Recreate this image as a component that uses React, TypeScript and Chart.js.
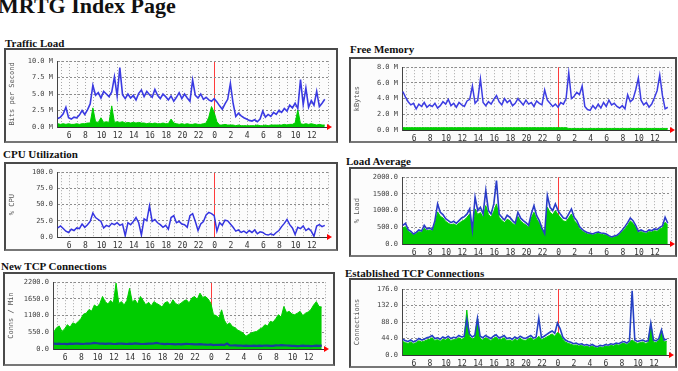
import React, { useEffect, useRef } from 'react';
import { Chart, registerables } from 'chart.js';

Chart.register(...registerables);

// sampling: one value every 20 minutes, starting 04:36 on day one
const startHour = 4.6;
const stepHours = 1 / 3;
const axisMinHour = 4.5;
const axisMaxHour = 38;
const midnightHour = 24;

// ---- Traffic Load (M bits/s) ----
const trafficOut = [
  1.3, 1.5, 2.0, 3.0, 1.4, 1.2, 1.5, 1.4, 1.8, 2.5,
  1.9, 2.6, 3.5, 6.3, 4.8, 5.2, 4.4, 5.4, 5.0, 4.6,
  5.3, 7.6, 4.7, 9.0, 4.9, 4.3, 5.0, 4.4, 4.8, 4.1,
  5.1, 5.6, 4.6, 5.4, 4.9, 4.5, 5.7, 4.8, 4.3, 5.0,
  4.6, 4.1, 4.7, 3.9, 4.5, 5.2, 4.3, 5.0, 4.4, 3.9,
  7.1, 4.8, 4.4, 5.0, 4.2, 4.5, 4.1, 3.9, 4.3, 3.8,
  3.2, 2.7, 3.5, 4.2, 6.6, 3.6, 1.6, 2.1, 1.7, 1.4,
  1.2, 1.0, 0.9, 1.1, 0.8, 1.2, 2.4, 1.5, 1.9, 1.6,
  2.2, 1.9, 2.5, 2.2, 2.8, 2.4, 3.3, 2.9, 3.6, 2.8,
  7.2, 3.4, 5.9, 3.0, 4.0, 3.3, 5.4, 3.1, 3.6, 4.2,
];
const trafficIn = [
  0.5, 0.4, 0.5, 0.4, 0.5, 0.4, 0.4, 0.5, 0.4, 0.5,
  0.5, 0.6, 0.6, 2.9, 0.8, 0.7, 1.4, 0.7, 0.8, 0.7,
  3.2, 0.7, 0.8, 0.7, 0.8, 0.6, 0.7, 0.6, 0.7, 0.6,
  0.7, 0.6, 0.6, 0.5, 0.6, 0.5, 0.6, 0.5, 0.5, 0.6,
  0.5, 0.5, 1.2, 0.6, 0.5, 0.4, 0.5, 0.4, 0.5, 0.4,
  0.4, 0.5, 0.4, 0.4, 0.5, 0.6, 1.5, 3.1, 2.2, 0.8,
  0.3, 0.3, 0.4, 0.3, 0.3, 0.3, 0.2, 0.3, 0.2, 0.2,
  0.2, 0.2, 0.2, 0.2, 0.3, 0.2, 0.2, 0.3, 0.2, 0.3,
  0.3, 0.3, 0.3, 0.3, 0.4, 0.3, 0.4, 0.4, 0.6, 2.6,
  0.5, 0.4, 0.5, 0.4, 0.5, 0.4, 0.3, 0.4, 0.3, 0.3,
];

// ---- Free Memory (M kBytes) ----
const memoryOut = [
  4.9, 4.2, 3.6, 3.2, 3.4, 2.7, 3.3, 3.0, 3.5, 2.9,
  3.2, 3.0, 3.4, 2.8, 3.1, 3.6, 3.3, 3.9, 3.1, 3.4,
  2.9, 3.5, 3.2, 3.0, 3.7, 3.9, 5.6, 3.4, 3.8, 6.5,
  3.5, 3.1, 3.6, 3.3, 3.9, 4.4, 3.6, 3.2, 4.0, 3.5,
  3.8, 3.1, 3.4, 4.0, 3.6, 3.2, 3.8, 3.3, 3.5, 3.0,
  3.7, 3.4, 3.2, 5.1, 3.8, 3.4, 3.0, 3.3, 2.9, 3.5,
  3.3, 4.0, 7.3, 4.0, 4.3, 4.8, 4.5, 5.6, 3.0, 2.6,
  2.5, 3.1, 2.7, 3.3, 2.8, 3.5, 3.0, 3.8, 3.2, 3.4,
  3.0, 2.8, 3.1, 2.7, 4.5, 3.6, 3.9, 5.1, 6.6, 3.8,
  3.2, 3.5, 2.9, 3.3, 4.1, 5.0, 7.0, 4.4, 2.7, 2.9,
];
const memoryIn = [
  0.3, 0.3, 0.3, 0.3, 0.3, 0.3, 0.3, 0.3, 0.3, 0.3,
  0.3, 0.3, 0.3, 0.3, 0.3, 0.3, 0.3, 0.3, 0.3, 0.3,
  0.3, 0.3, 0.3, 0.3, 0.3, 0.3, 0.3, 0.3, 0.3, 0.3,
  0.3, 0.3, 0.3, 0.3, 0.3, 0.3, 0.3, 0.3, 0.3, 0.3,
  0.3, 0.3, 0.3, 0.3, 0.3, 0.3, 0.3, 0.3, 0.3, 0.3,
  0.3, 0.3, 0.3, 0.3, 0.3, 0.3, 0.3, 0.3, 0.3, 0.3,
  0.3, 0.3, 0.2, 0.2, 0.2, 0.2, 0.2, 0.2, 0.2, 0.2,
  0.2, 0.2, 0.2, 0.2, 0.2, 0.2, 0.2, 0.2, 0.2, 0.2,
  0.2, 0.2, 0.2, 0.2, 0.2, 0.2, 0.2, 0.2, 0.2, 0.2,
  0.2, 0.2, 0.2, 0.2, 0.2, 0.2, 0.2, 0.2, 0.2, 0.2,
];

// ---- CPU Utilization (%) ----
const cpuOut = [
  14, 17, 13, 9, 7, 12, 10, 14, 13, 20,
  15, 19, 24, 37, 30, 27, 24, 14, 18, 16,
  21, 19, 22, 18, 20, 2, 22, 19, 24, 30,
  22, 3, 28, 25, 48, 24, 27, 22, 19, 15,
  18, 12, 30, 33, 22, 24, 20, 19, 15, 33,
  36, 24, 10, 20, 24, 34, 38, 36, 33, 9,
  22, 18, 26, 25, 20, 15, 9, 11, 7, 9,
  6, 10, 7, 11, 5, 8, 7, 4, 3, 5,
  3, 7, 10, 16, 21, 27, 19, 14, 4, 15,
  13, 17, 10, 13, 9, 1, 17, 19, 16, 18,
];

// ---- Load Average ----
const loadOut = [
  560, 620, 430, 380, 300, 350, 420, 390, 560, 450,
  480, 430, 700, 1200, 950, 880, 760, 700, 640, 680,
  620, 700, 780, 820, 900, 1050, 420, 1400, 1000, 1100,
  900, 1600, 1000, 900, 1200, 1900, 900, 800, 720, 860,
  800, 700, 620, 950, 780, 700, 640, 560, 900, 1150,
  850, 700, 480, 310, 1450, 1100, 1000, 1200, 1000, 880,
  780, 760, 900, 1050, 800, 700, 520, 440, 380, 340,
  320, 300, 340, 360, 330, 320, 300, 250, 210, 240,
  260, 330, 420, 520, 640, 780, 700, 560, 380, 420,
  380, 360, 420, 400, 450, 430, 500, 540, 800, 620,
];
const loadIn = [
  480, 520, 380, 330, 280, 310, 370, 350, 470, 400,
  420, 390, 600, 960, 830, 780, 680, 620, 580, 600,
  560, 620, 680, 720, 800, 900, 400, 1050, 880, 940,
  800, 1150, 880, 800, 980, 1200, 800, 700, 640, 740,
  700, 620, 560, 820, 690, 620, 570, 500, 780, 950,
  750, 620, 440, 300, 1100, 950, 880, 1000, 880, 780,
  690, 670, 780, 900, 700, 620, 460, 390, 340, 300,
  290, 270, 300, 320, 290, 280, 270, 220, 190, 210,
  230, 290, 370, 460, 560, 690, 620, 500, 340, 370,
  340, 320, 370, 360, 400, 380, 450, 480, 650, 560,
];

// ---- New TCP Connections (conns / min) ----
const newTcpOut = [
  180, 170, 175, 165, 170, 160, 175, 170, 180, 175,
  170, 165, 180, 175, 185, 200, 190, 180, 175, 170,
  180, 175, 165, 170, 180, 175, 170, 165, 175, 170,
  185, 180, 170, 165, 170, 175, 180, 185, 200, 180,
  170, 160, 170, 165, 160, 155, 165, 150, 160, 170,
  165, 160, 155, 150, 160, 150, 145, 140, 150, 130,
  140, 135, 145, 130, 180, 120, 115, 120, 110, 115,
  105, 110, 100, 105, 110, 100, 110, 105, 115, 110,
  100, 105, 120, 115, 125, 120, 115, 110, 105, 100,
  95, 100, 110, 105, 100, 95, 100, 110, 105, 110,
];
const newTcpIn = [
  560, 700, 760, 580, 660, 800, 720, 860, 820, 900,
  1000, 1150, 1180, 1300, 1250, 1450, 1380, 1500, 1730, 1560,
  1480, 1600, 1510, 2170, 1500, 1560, 1450, 1600, 2000, 1550,
  1620, 1480, 1730, 1600, 1450, 1540, 1420, 1560, 1500, 1450,
  1380, 1520, 1560, 1440, 1620, 1500, 1450, 1510, 1580, 1620,
  1520, 1680, 1730, 1640, 1840, 1700, 1730, 1650, 1510, 1130,
  1100, 1020, 1290, 950, 800, 860, 740, 700, 620, 580,
  520, 420, 480, 530, 560, 580, 650, 700, 800, 760,
  910, 880, 1000, 1130, 1050, 1400, 1200, 1240, 1150, 1130,
  1180, 1240, 1100, 1180, 1220, 1300, 1450, 1560, 1400, 1380,
];

// ---- Established TCP Connections ----
const estTcpOut = [
  42, 38, 36, 40, 35, 38, 44, 40, 42, 46,
  48, 52, 44, 46, 42, 48, 45, 50, 44, 47,
  46, 52, 48, 50, 95, 56, 48, 52, 98, 50,
  46, 52, 48, 44, 50, 54, 46, 48, 52, 44,
  46, 42, 48, 44, 50, 46, 44, 48, 52, 45,
  48, 98, 46, 50, 55, 60, 64, 58, 85, 70,
  48, 40, 36, 34, 30, 32, 28, 30, 26, 28,
  25, 28, 24, 22, 26, 24, 28, 26, 30, 28,
  32, 30, 34, 36, 32, 38, 171, 40, 36, 38,
  40, 36, 38, 85, 40, 38, 44, 67, 40, 42,
];
const estTcpIn = [
  36, 33, 31, 35, 30, 33, 38, 35, 37, 40,
  42, 46, 39, 41, 37, 42, 40, 44, 39, 41,
  41, 46, 42, 44, 120, 50, 42, 46, 98, 44,
  40, 46, 42, 39, 44, 48, 41, 42, 46, 39,
  40, 37, 42, 39, 44, 40, 39, 42, 46, 40,
  42, 50, 41, 44, 48, 52, 56, 50, 60, 55,
  42, 35, 31, 29, 26, 27, 24, 26, 22, 24,
  21, 24, 20, 19, 22, 20, 24, 22, 26, 24,
  28, 26, 30, 31, 28, 33, 40, 35, 31, 33,
  35, 31, 33, 85, 35, 33, 39, 67, 35, 36,
];

type Box = { x: number; y: number; w: number; h: number };
type Plot = { l: number; t: number; r: number; b: number };
type Spec = {
  title: string;
  titleX: number;
  titleY: number;
  box: Box;
  plot: Plot;
  yMax: number;
  yStep: number;
  unit: string;
  yTitle: string;
  out: number[];
  inn: number[] | null;
  outColor: string;
  outWidth: number;
};

const specs: Spec[] = [
  {
    title: 'Traffic Load', titleX: 5, titleY: 38,
    box: { x: 4, y: 48, w: 334, h: 95 }, plot: { l: 57, t: 61, r: 328, b: 127 },
    yMax: 10, yStep: 2.5, unit: ' M', yTitle: 'Bits per Second',
    out: trafficOut, inn: trafficIn, outColor: '#3a3ae2', outWidth: 1.6,
  },
  {
    title: 'Free Memory', titleX: 350, titleY: 44,
    box: { x: 349, y: 57, w: 328, h: 86 }, plot: { l: 402, t: 64, r: 673, b: 130 },
    yMax: 8, yStep: 2, unit: ' M', yTitle: 'kBytes',
    out: memoryOut, inn: memoryIn, outColor: '#3c3ce2', outWidth: 1.5,
  },
  {
    title: 'CPU Utilization', titleX: 3, titleY: 149,
    box: { x: 4, y: 162, w: 334, h: 89 }, plot: { l: 57, t: 170, r: 328, b: 237 },
    yMax: 100, yStep: 25, unit: '', yTitle: '% CPU',
    out: cpuOut, inn: null, outColor: '#3434e0', outWidth: 1.5,
  },
  {
    title: 'Load Average', titleX: 346, titleY: 156,
    box: { x: 349, y: 167, w: 328, h: 90 }, plot: { l: 402, t: 177, r: 672, b: 244 },
    yMax: 2000, yStep: 500, unit: '', yTitle: '% Load',
    out: loadOut, inn: loadIn, outColor: '#2a3cc8', outWidth: 1.6,
  },
  {
    title: 'New TCP Connections', titleX: 1, titleY: 261,
    box: { x: 3, y: 272, w: 332, h: 94 }, plot: { l: 53, t: 282, r: 325, b: 349 },
    yMax: 2200, yStep: 550, unit: '', yTitle: 'Conns / Min',
    out: newTcpOut, inn: newTcpIn, outColor: '#1a3c9c', outWidth: 2.2,
  },
  {
    title: 'Established TCP Connections', titleX: 345, titleY: 268,
    box: { x: 349, y: 278, w: 328, h: 90 }, plot: { l: 402, t: 289, r: 670, b: 355 },
    yMax: 176, yStep: 44, unit: '', yTitle: 'Connections',
    out: estTcpOut, inn: estTcpIn, outColor: '#2440c4', outWidth: 1.6,
  },
];

const arrowPlugin = {
  id: 'mrtgArrow',
  afterDraw(chart: any) {
    const { ctx, chartArea } = chart;
    const x = chartArea.right;
    const y = chartArea.bottom;
    ctx.save();
    ctx.fillStyle = '#ff0000';
    ctx.beginPath();
    ctx.moveTo(x - 1, y - 3);
    ctx.lineTo(x + 4, y);
    ctx.lineTo(x - 1, y + 3);
    ctx.closePath();
    ctx.fill();
    ctx.restore();
  },
};

const mono = '"DejaVu Sans Mono", "Liberation Mono", monospace';

function MrtgChart({ spec }: { spec: Spec }) {
  const ref = useRef<HTMLCanvasElement>(null);
  const innerW = spec.box.w - 4;
  const innerH = spec.box.h - 4;
  useEffect(() => {
    const innerL = spec.box.x + 2;
    const innerT = spec.box.y + 2;
    const yAxisW = spec.plot.l - innerL;
    const padTop = spec.plot.t - innerT;
    const padRight = innerL + innerW - spec.plot.r;
    const xAxisH = innerT + innerH - spec.plot.b;
    const toPts = (arr: number[]) => arr.map((v, i) => ({ x: startHour + i * stepHours, y: v }));
    const datasets: any[] = [
      {
        data: toPts(spec.out),
        borderColor: spec.outColor,
        borderWidth: spec.outWidth,
        pointRadius: 0,
        fill: false,
        tension: 0,
        order: 0,
      },
    ];
    if (spec.inn) {
      datasets.push({
        data: toPts(spec.inn),
        borderColor: '#00cc00',
        backgroundColor: '#00cc00',
        borderWidth: 1,
        pointRadius: 0,
        fill: 'origin',
        tension: 0,
        order: 1,
      });
    }
    const chart = new Chart(ref.current as HTMLCanvasElement, {
      type: 'line',
      data: { datasets },
      options: {
        animation: false,
        responsive: false,
        devicePixelRatio: 1,
        layout: { padding: { top: padTop, right: padRight, left: 0, bottom: 0 } },
        plugins: { legend: { display: false }, tooltip: { enabled: false } },
        scales: {
          x: {
            type: 'linear',
            min: axisMinHour,
            max: axisMaxHour,
            z: 1,
            ticks: {
              stepSize: 1,
              autoSkip: false,
              maxRotation: 0,
              includeBounds: false,
              padding: 4,
              color: '#333',
              font: { family: mono, size: 8 },
              callback: (v: any) => (v % 2 === 0 && v < axisMaxHour ? String(v % 24) : ''),
            },
            grid: {
              drawTicks: false,
              lineWidth: 1,
              color: (ctx: any) => (ctx.tick && ctx.tick.value === midnightHour ? '#ff3b3b' : '#a8a8a8'),
            },
            border: {
              color: '#333',
              width: 1,
              dash: (ctx: any) => (ctx.tick && ctx.tick.value === midnightHour ? [] : [1, 2]),
            },
            afterFit: (s: any) => { s.height = xAxisH; },
          } as any,
          y: {
            type: 'linear',
            min: 0,
            max: spec.yMax,
            z: 1,
            ticks: {
              stepSize: spec.yStep,
              padding: 4,
              color: '#444',
              font: { family: mono, size: 7 },
              callback: (v: any) => Number(v).toFixed(1) + spec.unit,
            },
            grid: { drawTicks: false, color: '#8c8c8c', lineWidth: 1 },
            border: { color: '#444', width: 1, dash: [2, 2] },
            title: {
              display: true,
              text: spec.yTitle,
              color: '#555',
              font: { family: mono, size: 7 },
              padding: { top: 2, bottom: 0 },
            },
            afterFit: (s: any) => { s.width = yAxisW; },
          } as any,
        },
      },
      plugins: [arrowPlugin],
    });
    return () => chart.destroy();
  }, []);

  return (
    <>
      <div
        style={{
          position: 'absolute',
          left: spec.titleX,
          top: spec.titleY,
          fontFamily: '"Liberation Serif", "Times New Roman", serif',
          fontWeight: 'bold',
          fontSize: 11,
          lineHeight: '11px',
          whiteSpace: 'nowrap',
          color: '#111',
        }}
      >
        {spec.title}
      </div>
      <div
        style={{
          position: 'absolute',
          left: spec.box.x,
          top: spec.box.y,
          width: spec.box.w,
          height: spec.box.h,
          boxSizing: 'border-box',
          border: '2px solid #4a4a4a',
          borderBottomColor: '#777',
          background: '#fcfcfc',
        }}
      >
        <canvas ref={ref} width={innerW} height={innerH} style={{ display: 'block', width: innerW, height: innerH }} />
      </div>
    </>
  );
}

export default function App() {
  return (
    <div
      style={{
        position: 'absolute',
        left: 0,
        top: 0,
        width: 678,
        height: 371,
        overflow: 'hidden',
        background: '#ffffff',
      }}
    >
      <div
        style={{
          position: 'absolute',
          left: -2,
          top: -5,
          fontFamily: '"Liberation Serif", "Times New Roman", serif',
          fontWeight: 'bold',
          fontSize: 22,
          lineHeight: '22px',
          whiteSpace: 'nowrap',
          color: '#111',
        }}
      >
        MRTG Index Page
      </div>
      {specs.map((s) => (
        <MrtgChart key={s.title} spec={s} />
      ))}
    </div>
  );
}
